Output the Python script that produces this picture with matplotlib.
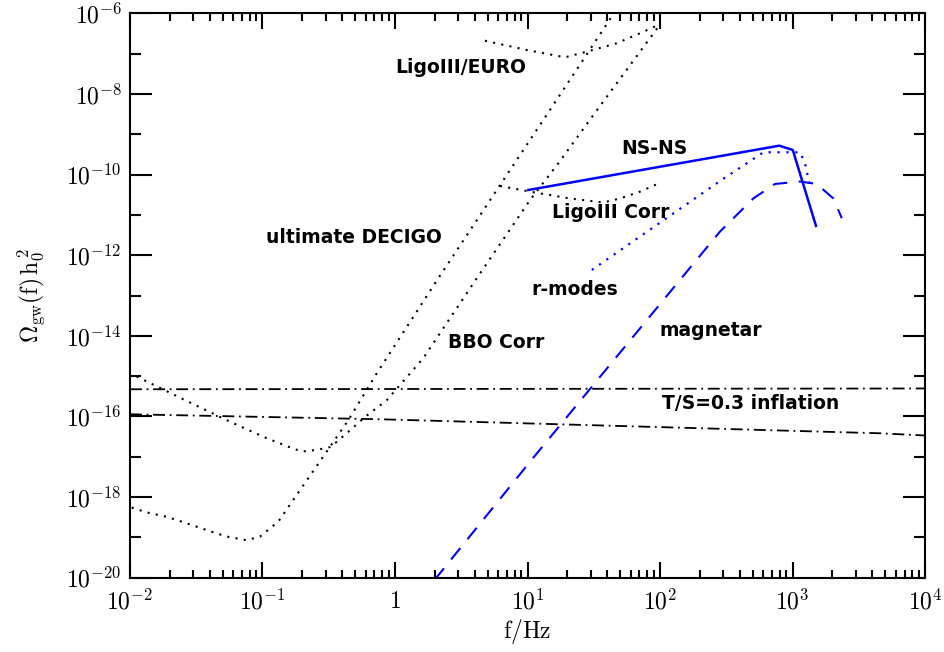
"""Stochastic gravitational wave background: detector sensitivities and
source predictions, Omega_gw(f) h0^2 against frequency.
"""
import matplotlib
matplotlib.use('Agg')
import matplotlib.pyplot as plt
import numpy as np
from matplotlib.ticker import FixedLocator, LogLocator, NullFormatter

plt.rcParams['mathtext.fontset'] = 'cm'
plt.rcParams['font.family'] = 'DejaVu Sans'

# all curves given as log10(f/Hz), log10(Omega h0^2)
decigo_logf = [-1.987, -1.874, -1.723, -1.572, -1.421, -1.270, -1.119,
               -1.019, -0.881, -0.755, -0.629, -0.528, -0.352, -0.138,
               0.327, 0.792, 1.132, 1.635]
decigo_logom = [-18.26, -18.38, -18.49, -18.65, -18.82, -18.98, -19.07,
                -18.98, -18.61, -18.01, -17.41, -16.93, -16.09, -14.93,
                -12.57, -10.26, -8.58, -6.08]

bbo_logf = [-1.949, -1.600, -1.245, -0.968, -0.805, -0.704, -0.591, -0.491,
            -0.440, -0.352, -0.226, -0.063, 0.214, 0.617, 1.019, 1.232,
            1.497, 1.987]
bbo_logom = [-15.01, -15.57, -16.13, -16.54, -16.75, -16.87, -16.83, -16.76,
             -16.63, -16.38, -16.01, -15.60, -14.55, -12.57, -10.63, -9.72,
             -8.52, -6.33]

euro_logf = [0.679, 0.994, 1.283, 1.447, 1.673, 1.849, 1.987]
euro_logom = [-6.675, -6.906, -7.087, -6.948, -6.739, -6.491, -6.285]

ligo_logf = [0.792, 1.069, 1.321, 1.572, 1.698, 1.849, 1.995]
ligo_logom = [-10.28, -10.45, -10.59, -10.69, -10.59, -10.42, -10.21]

nsns_logf = [1.006, 2.900, 3.002, 3.177]
nsns_logom = [-10.38, -9.28, -9.387, -11.27]

rmode_logf = [1.485, 2.138, 2.453, 2.780, 3.057, 3.094, 3.130]
rmode_logom = [-12.365, -10.876, -10.156, -9.444, -9.444, -9.717, -10.25]

magnetar_logf = [0.300, 1.042, 2.151, 2.453, 2.704, 2.868, 3.057, 3.183,
                 3.308, 3.372]
magnetar_logom = [-20.05, -17.03, -12.61, -11.41, -10.59, -10.23, -10.17,
                  -10.23, -10.59, -11.08]

infl_hi_logf = [-2.0, 4.0]
infl_hi_logom = [-15.325, -15.305]
infl_lo_logf = [-2.0, -0.113, 3.660, 4.0]
infl_lo_logom = [-15.945, -16.069, -16.417, -16.472]

labels = ['LigoIII/EURO', 'ultimate DECIGO', 'NS-NS', 'LigoIII Corr',
          'r-modes', 'BBO Corr', 'magnetar', 'T/S=0.3 inflation']
label_logf = [0.498, -0.309, 1.955, 1.630, 1.358, 0.762, 2.385, 2.687]
label_logom = [-7.352, -11.571, -9.362, -10.950, -12.861, -14.176, -13.878,
               -15.690]


def p10(v):
    return 10.0 ** np.asarray(v)


fig = plt.figure(figsize=(9.44, 6.52), dpi=100)
ax = fig.add_axes([0.1377, 0.1140, 0.8422, 0.8653])

dot = (0, (1.0, 3.0))
ax.plot(p10(decigo_logf), p10(decigo_logom), color='black', lw=1.5, ls=dot)
ax.plot(p10(bbo_logf), p10(bbo_logom), color='black', lw=1.5, ls=dot)
ax.plot(p10(euro_logf), p10(euro_logom), color='black', lw=1.5, ls=dot)
ax.plot(p10(ligo_logf), p10(ligo_logom), color='black', lw=1.5, ls=dot)

dashdot = (0, (6.6, 2.6, 1.0, 2.6))
ax.plot(p10(infl_hi_logf), p10(infl_hi_logom), color='black', lw=1.3,
        ls=dashdot)
ax.plot(p10(infl_lo_logf), p10(infl_lo_logom), color='black', lw=1.3,
        ls=dashdot)

ax.plot(p10(nsns_logf), p10(nsns_logom), color='#0000ff', lw=1.8)
ax.plot(p10(rmode_logf), p10(rmode_logom), color='#0000ff', lw=1.6, ls=dot)
ax.plot(p10(magnetar_logf), p10(magnetar_logom), color='#0000ff', lw=1.5,
        ls=(0, (7.0, 5.5)))

for txt, lf, lo in zip(labels, label_logf, label_logom):
    ax.text(10 ** lf, 10 ** lo, txt, ha='center', va='center',
            fontsize=13.5, fontweight='bold')

ax.set_xscale('log')
ax.set_yscale('log')
ax.set_xlim(1e-2, 1e4)
ax.set_ylim(1e-20, 1e-6)

xt = [1e-2, 1e-1, 1, 10, 100, 1e3, 1e4]
ax.set_xticks(xt)
ax.set_xticklabels([r'$10^{-2}$', r'$10^{-1}$', r'$1$', r'$10^{1}$',
                    r'$10^{2}$', r'$10^{3}$', r'$10^{4}$'])
ax.xaxis.set_minor_locator(LogLocator(base=10, subs=np.arange(2, 10),
                                      numticks=20))
ax.xaxis.set_minor_formatter(NullFormatter())

yt = [10.0 ** e for e in range(-20, -5, 2)]
ax.yaxis.set_major_locator(FixedLocator(yt))
ax.set_yticklabels([r'$10^{%d}$' % e for e in range(-20, -5, 2)])
ax.yaxis.set_minor_locator(FixedLocator([10.0 ** e for e in range(-19, -6, 2)]))
ax.yaxis.set_minor_formatter(NullFormatter())

ax.tick_params(which='both', direction='in', top=True, right=True,
               width=1.5, labelsize=17)
ax.tick_params(axis='x', which='major', length=11.5, pad=8)
ax.tick_params(axis='x', which='minor', length=5.5)
ax.tick_params(axis='y', which='major', length=16, pad=6)
ax.tick_params(axis='y', which='minor', length=8)
for sp in ax.spines.values():
    sp.set_linewidth(1.5)

ax.set_xlabel(r'$\rm f/Hz$', fontsize=17, labelpad=2)
ax.set_ylabel(r'$\Omega_{\rm gw}(\rm f)\,h_0^{\,2}$', fontsize=17,
              labelpad=14)

fig.savefig('out.png', dpi=100)
